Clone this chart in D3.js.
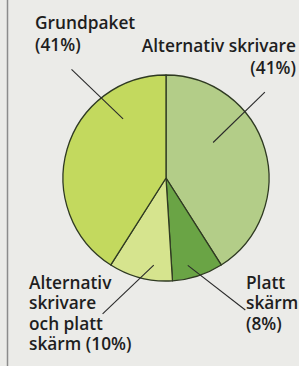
<!DOCTYPE html>
<html>
<head>
<meta charset="utf-8">
<script src="https://cdn.jsdelivr.net/npm/d3@7"></script>
<style>
  html, body { margin: 0; padding: 0; background: #ebebe8; }
  svg { display: block; }
  .lbl { font-family: "Open Sans", sans-serif; font-weight: 600; font-size: 17.3px; fill: #1e1e1e; }
</style>
</head>
<body>
<div id="chart"></div>
<script>
// package choices, share of buyers (%)
const categories = ["Alternativ skrivare", "Platt skärm", "Alternativ skrivare och platt skärm", "Grundpaket"];
const shares = [41, 8, 10, 41];
const sliceColors = ["#b3cd88", "#6aa445", "#d6e48e", "#c3d95e"];

// label lines as they appear in the picture
const labelLines = [
  ["Alternativ skrivare", "(41%)"],
  ["Platt", "skärm", "(8%)"],
  ["Alternativ", "skrivare", "och platt", "skärm (10%)"],
  ["Grundpaket", "(41%)"]
];

(function () {
  const W = 299, H = 366;
  const cx = 166, cy = 178, R = 103;

  const svg = d3.select("#chart").append("svg").attr("width", W).attr("height", H);

  // paper + left rule
  svg.append("rect").attr("width", W).attr("height", H).attr("fill", "#ebebe8");
  svg.append("line").attr("x1", 7.5).attr("x2", 7.5).attr("y1", 0).attr("y2", H)
    .attr("stroke", "#8c8c8c").attr("stroke-width", 1.5);

  const data = categories.map((c, i) => ({ name: c, value: shares[i], color: sliceColors[i], lines: labelLines[i] }));

  const pie = d3.pie().value(d => d.value).sort(null);
  const arc = d3.arc().innerRadius(0).outerRadius(R);
  const arcs = pie(data);

  const g = svg.append("g").attr("transform", `translate(${cx},${cy})`);
  g.selectAll("path").data(arcs).enter().append("path")
    .attr("d", arc)
    .attr("fill", d => d.data.color)
    .attr("stroke", "#2f3a22").attr("stroke-width", 1.3).attr("stroke-linejoin", "round");

  // leader lines: [angle deg, radius] inside slice -> outside
  const leaders = [
    [[53, 59], [49, 131]],
    [[166, 90], [149, 154]],
    [[188, 88], [205, 150]],
    [[324, 73], [319, 144]]
  ];
  const rad = a => a * Math.PI / 180;
  g.selectAll("line.lead").data(arcs).enter().append("line")
    .attr("class", "lead")
    .each(function (d, i) {
      const p0 = d3.pointRadial(rad(leaders[i][0][0]), leaders[i][0][1]);
      const p1 = d3.pointRadial(rad(leaders[i][1][0]), leaders[i][1][1]);
      d3.select(this).attr("x1", p0[0]).attr("y1", p0[1]).attr("x2", p1[0]).attr("y2", p1[1]);
    })
    .attr("stroke", "#2a2a2a").attr("stroke-width", 1.1);

  // label blocks: x, first baseline, line step, anchor
  const labelPos = [
    { x: 296, y: 52, step: 22, anchor: "end" },
    { x: 246, y: 289, step: 20.3, anchor: "start" },
    { x: 29, y: 289, step: 20.3, anchor: "start" },
    { x: 35, y: 29, step: 22, anchor: "start" }
  ];
  data.forEach((d, i) => {
    const p = labelPos[i];
    const t = svg.append("text").attr("class", "lbl").attr("text-anchor", p.anchor);
    d.lines.forEach((ln, j) => {
      t.append("tspan").attr("x", p.x).attr("y", p.y + j * p.step).text(ln);
    });
  });
})();
</script>
</body>
</html>
